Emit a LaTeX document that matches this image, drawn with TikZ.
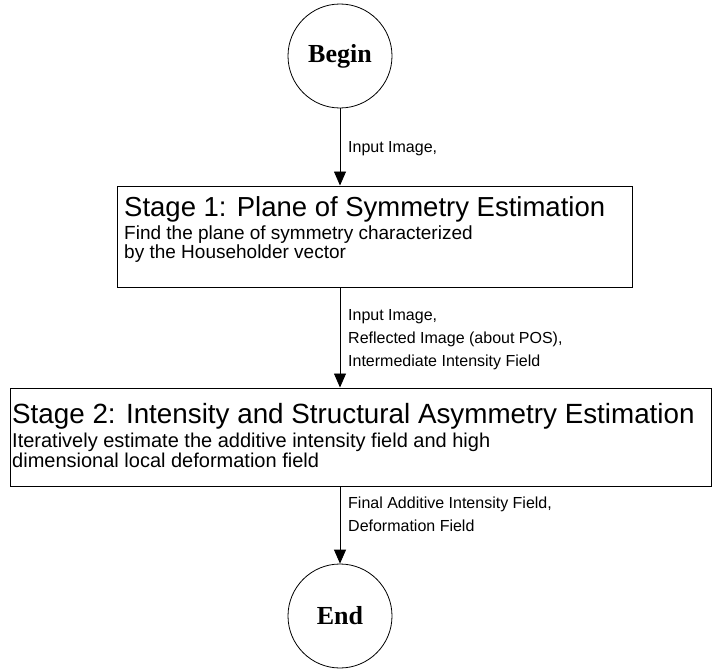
\documentclass[tikz,border=0pt]{standalone}
\usepackage{fontspec}
\setmainfont{Liberation Serif}
\setsansfont{Liberation Sans}
\usetikzlibrary{arrows.meta}

\begin{document}
\begin{tikzpicture}[x=1pt, y=-1pt,
  term/.style={draw, circle, line width=0.8pt, minimum size=104pt, inner sep=0pt,
    font=\fontsize{26}{28}\selectfont\bfseries},
  stagebox/.style={draw, rectangle, line width=1pt, inner sep=0pt},
  title/.style={anchor=base west, inner sep=0pt, font=\sffamily\fontsize{27.5}{30}\selectfont},
  desc/.style={anchor=base west, inner sep=0pt, align=left, font=\sffamily\fontsize{19}{19}\selectfont},
  lbl/.style={anchor=base west, inner sep=0pt, align=left, font=\sffamily\fontsize{16}{23}\selectfont},
  flow/.style={draw, line width=0.8pt, -{Triangle[length=14pt,width=12pt]}},]
  \useasboundingbox (0,0) rectangle (712,669);
  % terminals
  \node[term] (begin) at (340,56) {Begin};
  \node[term] (end) at (340,616) {End};
  % stages (base of a multi-line node = its last line)
  \node[stagebox, minimum width=515pt, minimum height=101pt] (s1) at (374.5,236.5) {};
  \node[title] (s1title) at (124,216) {Stage 1: Plane of Symmetry Estimation};
  \node[desc] (s1desc) at (124,258) {Find the plane of symmetry characterized\\by the Householder vector};
  \node[stagebox, minimum width=701pt, minimum height=98pt] (s2) at (360.5,437) {};
  \node[title, font=\sffamily\fontsize{27.8}{30}\selectfont] (s2title) at (12,423) {Stage 2: Intensity and Structural Asymmetry Estimation};
  \node[desc, font=\sffamily\fontsize{20}{20}\selectfont] (s2desc) at (12,467) {Iteratively estimate the additive intensity field and high\\dimensional local deformation field};
  % connectors
  \draw[flow] (begin.south) -- (begin.south |- s1.north);
  \draw[flow] (begin.south |- s1.south) -- (begin.south |- s2.north);
  \draw[flow] (begin.south |- s2.south) -- (end.north);
  \node[lbl] (in1) at (348,152) {Input Image,};
  \node[lbl] (in2) at (348,366) {Input Image,\\Reflected Image (about POS),\\Intermediate Intensity Field};
  \node[lbl] (out) at (348,531) {Final Additive Intensity Field,\\Deformation Field};
\end{tikzpicture}
\end{document}
